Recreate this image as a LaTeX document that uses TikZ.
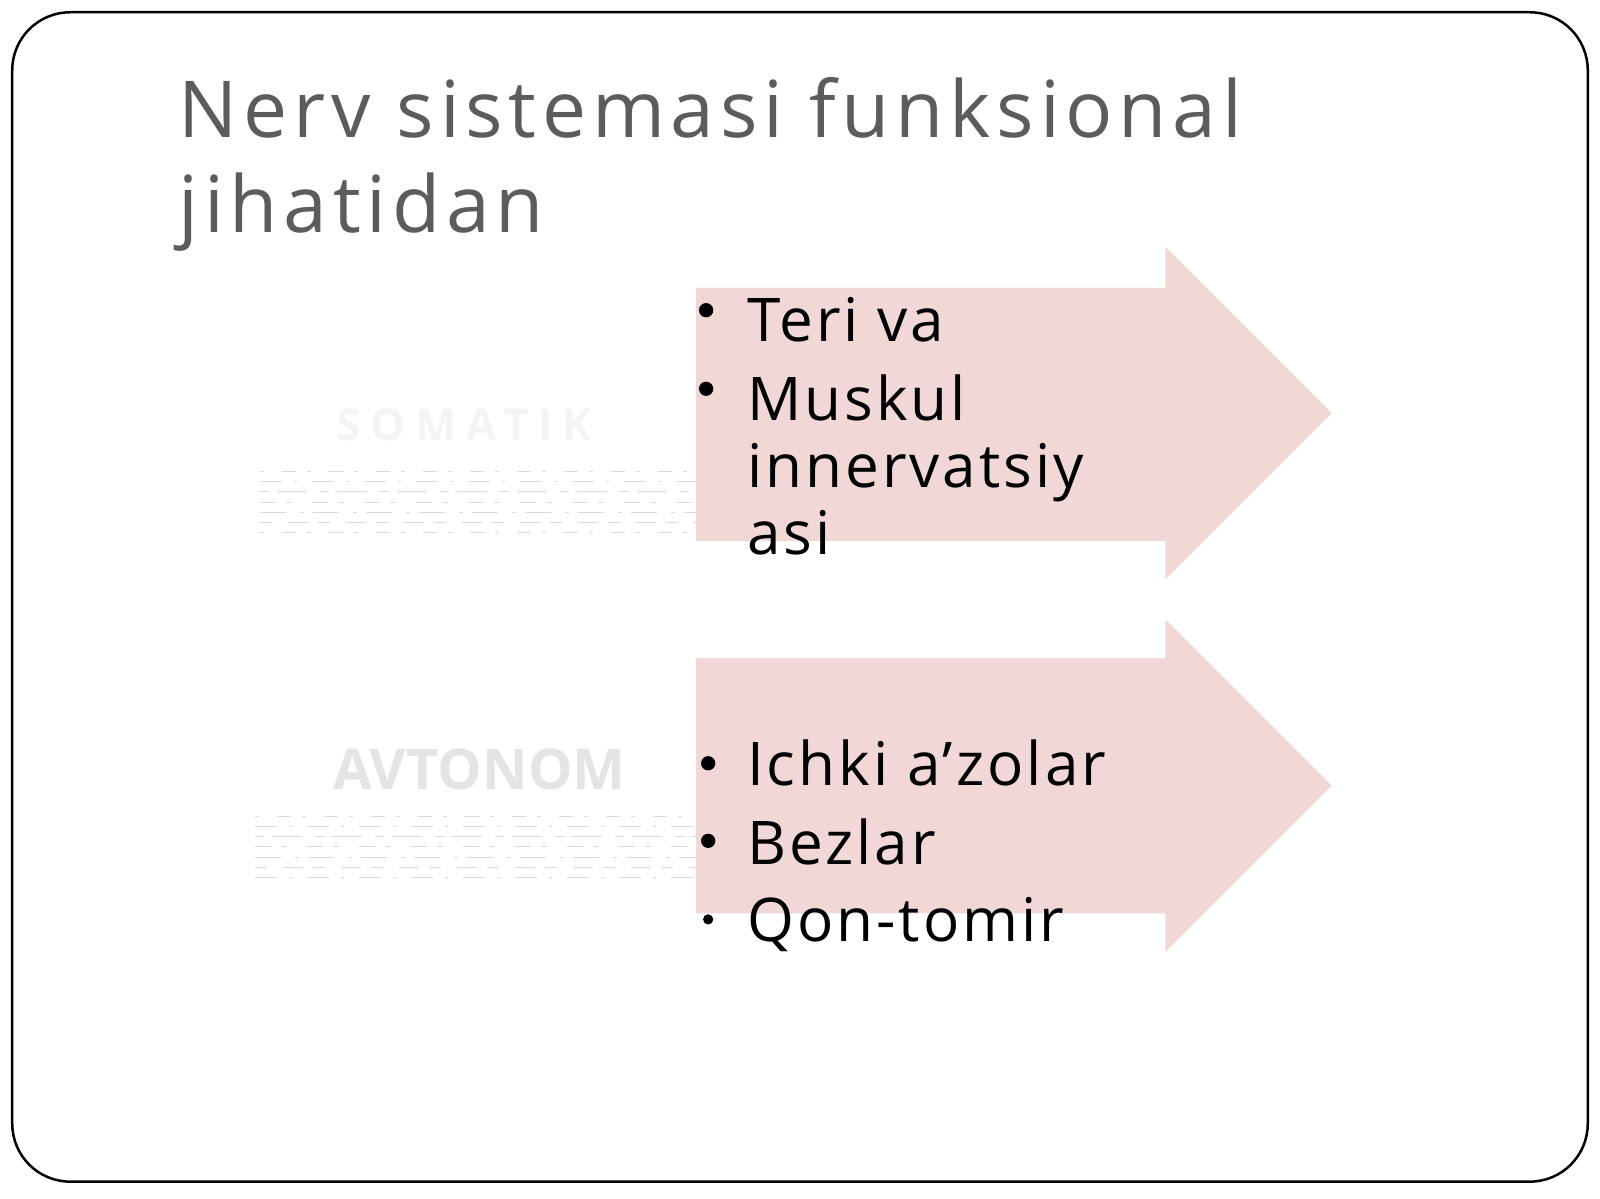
\documentclass[tikz,border=0pt]{standalone}
\usepackage{fontspec}
\setmainfont{Open Sans}
\definecolor{arrowpink}{RGB}{242,215,215}
\definecolor{titlegray}{RGB}{92,92,92}
\definecolor{fadegray}{RGB}{228,228,228}
\tikzset{
  frame/.style={draw=black, line width=2.5pt, rounded corners=58pt},
  bigarrow/.style={fill=arrowpink, draw=none},
  titletext/.style={anchor=base west, inner sep=0pt, text=titlegray, font=\fontsize{77}{90}\selectfont\addfontfeatures{LetterSpace=7.3}},
  itemtext/.style={anchor=base west, inner sep=0pt, text=black, font=\fontsize{59}{66}\selectfont\addfontfeatures{LetterSpace=5}},
  bulletdot/.style={circle, fill=black, inner sep=0pt, minimum size=14pt},
  fadelabel/.style={inner sep=0pt, text=fadegray, font=\bfseries\fontsize{55}{60}\selectfont},
  fadeline/.style={draw=gray!30, line width=1pt},
  fadeA/.style={fadeline, dash pattern=on 4pt off 18pt on 14pt off 11pt},
  fadeB/.style={fadeline, dash pattern=on 22pt off 12pt on 3pt off 15pt},
  fadeC/.style={fadeline, dash pattern=on 9pt off 8pt on 30pt off 13pt},
  fadeD/.style={fadeline, dash pattern=on 16pt off 10pt on 6pt off 20pt},
  fadeE/.style={fadeline, dash pattern=on 26pt off 14pt on 4pt off 9pt},
  fadeF/.style={fadeline, dash pattern=on 12pt off 16pt on 20pt off 10pt}
}
\begin{document}
\begin{tikzpicture}[x=1pt,y=-1pt,scale=1.0204,transform shape]
\useasboundingbox (0,0) rectangle (1568,1175);
\fill[white] (0,0) rectangle (1568,1175);
\draw[frame] (12,12) rectangle (1556,1158);

% title
\node[titletext] (t1) at (175,135) {Nerv sistemasi funksional};
\node[titletext] (t2) at (175,228) {jihatidan};

% faded left labels
\node[fadelabel, font=\bfseries\fontsize{43}{50}\selectfont\addfontfeatures{LetterSpace=22}, text=gray!9] (som) at (455,416) {SOMATIK};
\node[fadelabel] (avt) at (470,754) {AVTONOM};
\draw[fadeA] (255,462) -- (695,462);
\draw[fadeB] (255,472) -- (695,472);
\draw[fadeC] (255,482) -- (695,482);
\draw[fadeD] (255,492) -- (695,492);
\draw[fadeE] (255,502) -- (695,502);
\draw[fadeF] (255,512) -- (695,512);
\draw[fadeA] (255,522) -- (695,522);
\draw[fadeA] (250,800) -- (695,800);
\draw[fadeB] (250,810) -- (695,810);
\draw[fadeC] (250,820) -- (695,820);
\draw[fadeD] (250,830) -- (695,830);
\draw[fadeE] (250,840) -- (695,840);
\draw[fadeF] (250,850) -- (695,850);
\draw[fadeB] (250,860) -- (695,860);

% arrows
\fill[bigarrow] (682,282) -- (1142,282) -- (1142,242) -- (1305,405) -- (1142,568) -- (1142,530) -- (682,530) -- cycle;
\fill[bigarrow] (682,645) -- (1142,645) -- (1142,607) -- (1305,770) -- (1142,933) -- (1142,895) -- (682,895) -- cycle;

% first list
\node[bulletdot] (b1) at (692,304) {};
\node[itemtext] (i1) at (732,335) {Teri va};
\node[bulletdot] (b2) at (692,381) {};
\node[itemtext] (i2a) at (732,412) {Muskul};
\node[itemtext] (i2b) at (732,478) {innervatsiy};
\node[itemtext] (i2c) at (732,543) {asi};

% second list
\node[bulletdot] (b3) at (694,748) {};
\node[itemtext] (j1) at (732,770) {Ichki a’zolar};
\node[bulletdot] (b4) at (694,824) {};
\node[itemtext] (j2) at (732,847) {Bezlar};
\node[bulletdot, minimum size=10pt] (b5) at (694,901) {};
\node[itemtext] (j3) at (732,923) {Qon-tomir};
\end{tikzpicture}
\end{document}
